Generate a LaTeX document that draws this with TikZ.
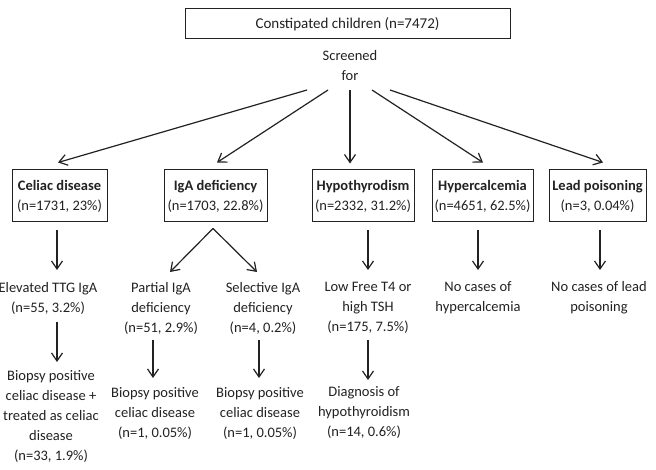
\documentclass[tikz,border=0pt]{standalone}
\usepackage{fontspec}
\setmainfont{Carlito}
\usetikzlibrary{arrows.meta,calc}
\definecolor{ink}{HTML}{222222}
\begin{document}
\begin{tikzpicture}[x=1pt,y=-1pt,
  txt/.style={align=center,font=\fontsize{14.5}{20}\selectfont,inner sep=0pt,text=ink},
  box/.style={draw=ink,line width=1pt,align=center,font=\fontsize{14.5}{20}\selectfont,inner sep=0pt,minimum height=52pt,text=ink},
  arr/.style={draw=ink,line width=1.2pt,-{Straight Barb[length=8pt,width=11pt,line width=1.2pt]}}]
\useasboundingbox[fill=white] (0,0) rectangle (656,470);
% top
\node[box,minimum width=325pt,minimum height=30pt,font=\fontsize{15}{20}\selectfont] (top) at (347.5,24) {Constipated children (n=7472)};
\node[txt] (scr) at (350,66) {Screened\\for};
% boxes
\node[box,minimum width=95pt] (cel) at (59.5,196) {\textbf{Celiac disease}\\(n=1731, 23\%)};
\node[box,minimum width=103pt] (iga) at (215.5,196) {\textbf{IgA deficiency}\\(n=1703, 22.8\%)};
\node[box,minimum width=102pt] (hyp) at (363,196) {\textbf{Hypothyrodism}\\(n=2332, 31.2\%)};
\node[box,minimum width=101pt] (cal) at (482.5,196) {\textbf{Hypercalcemia}\\(n=4651, 62.5\%)};
\node[box,minimum width=97pt] (lead) at (597.5,196) {\textbf{Lead poisoning}\\(n=3, 0.04\%)};
% level 2
\node[txt] (ttg) at (48,298) {Elevated TTG IgA\\(n=55, 3.2\%)};
\node[txt] (pig) at (161,308) {Partial IgA\\deficiency\\(n=51, 2.9\%)};
\node[txt] (sig) at (263,308) {Selective IgA\\deficiency\\(n=4, 0.2\%)};
\node[txt] (t4) at (368,308) {Low Free T4 or\\high TSH\\(n=175, 7.5\%)};
\node[txt] (nc) at (478,298) {No cases of\\hypercalcemia};
\node[txt] (nl) at (599,298) {No cases of lead\\poisoning};
% level 3
\node[txt] (bc) at (51,416) {Biopsy positive\\celiac disease +\\treated as celiac\\disease\\(n=33, 1.9\%)};
\node[txt] (bp) at (155,413) {Biopsy positive\\celiac disease\\(n=1, 0.05\%)};
\node[txt] (bs) at (260,413) {Biopsy positive\\celiac disease\\(n=1, 0.05\%)};
\node[txt] (dh) at (364,413) {Diagnosis of\\hypothyroidism\\(n=14, 0.6\%)};
% arrows from screening
\draw[arr] ($(scr)+(-43,24)$) -- ($(cel.north)+(-1.5,-7)$);
\draw[arr] ($(scr)+(-22,24)$) -- ($(iga.north)+(1.5,-7)$);
\draw[arr] ($(scr)+(0,24)$) -- ($(hyp.north)+(-13,-6)$);
\draw[arr] ($(scr)+(22,24)$) -- ($(cal.north)+(0.5,-7)$);
\draw[arr] ($(scr)+(40,24)$) -- ($(lead.north)+(5.5,-7)$);
% celiac chain
\draw[arr] ($(cel.south)+(-2.5,8)$) -- ($(ttg.center)+(9,-28)$);
\draw[arr] ($(ttg.center)+(9,24)$) -- ($(bc.center)+(6,-54)$);
% IgA split
\draw[arr] ($(iga.south)+(-2.5,6)$) -- ($(pig.center)+(9,-36)$);
\draw[arr] ($(iga.south)+(-2.5,6)$) -- ($(sig.center)+(-6,-36)$);
\draw[arr] ($(pig.center)+(-8,32)$) -- ($(bp.center)+(-2,-35)$);
\draw[arr] ($(sig.center)+(-4,32)$) -- ($(bs.center)+(-1,-35)$);
% hypothyroidism chain
\draw[arr] ($(hyp.south)+(5,8)$) -- ($(t4.center)+(0,-38)$);
\draw[arr] ($(t4.center)+(0,32)$) -- ($(dh.center)+(4,-33)$);
% others
\draw[arr] ($(cal.south)+(-4.5,8)$) -- ($(nc.center)+(0,-28)$);
\draw[arr] ($(lead.south)+(2.5,8)$) -- ($(nl.center)+(1,-28)$);
\end{tikzpicture}
\end{document}
